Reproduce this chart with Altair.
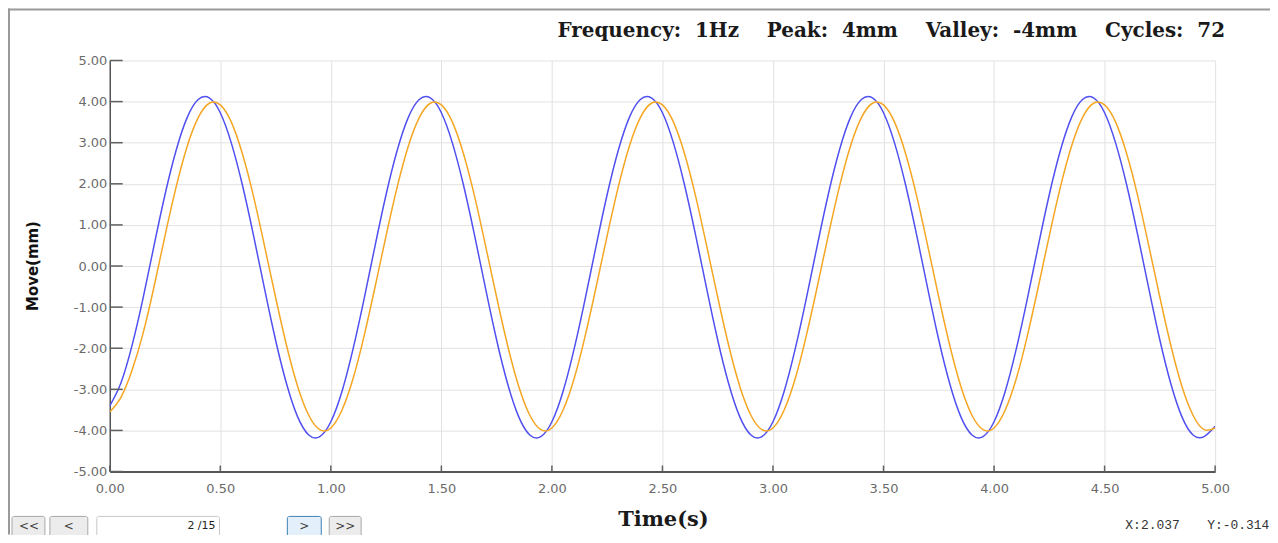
import altair as alt
import pandas as pd

# ---- data ----
time_s = [round(i * 0.05, 2) for i in range(101)]

blue_mm = [
    -3.40, -2.85, -1.95, -0.80, 0.49, 1.74, 2.81, 3.61, 4.05, 4.09, 3.73, 2.99, 1.97, 0.75, -0.55, -1.80, -2.87, -3.67, -4.11, -4.15,
    -3.79, -3.06, -2.03, -0.81, 0.49, 1.74, 2.81, 3.61, 4.05, 4.09, 3.73, 2.99, 1.97, 0.75, -0.55, -1.80, -2.87, -3.67, -4.11, -4.15,
    -3.79, -3.06, -2.03, -0.81, 0.49, 1.74, 2.81, 3.61, 4.05, 4.09, 3.73, 2.99, 1.97, 0.75, -0.55, -1.80, -2.87, -3.67, -4.11, -4.15,
    -3.79, -3.06, -2.03, -0.81, 0.49, 1.74, 2.81, 3.61, 4.05, 4.09, 3.73, 2.99, 1.97, 0.75, -0.55, -1.80, -2.87, -3.67, -4.11, -4.15,
    -3.79, -3.06, -2.03, -0.81, 0.49, 1.74, 2.81, 3.61, 4.05, 4.09, 3.73, 2.99, 1.97, 0.75, -0.55, -1.80, -2.87, -3.67, -4.11, -4.15,
    -3.90,
]

orange_mm = [
    -3.55, -3.20, -2.55, -1.65, -0.51, 0.74, 1.92, 2.91, 3.61, 3.96, 3.92, 3.50, 2.73, 1.70, 0.49, -0.76, -1.94, -2.93, -3.63, -3.98,
    -3.94, -3.51, -2.75, -1.71, -0.51, 0.74, 1.92, 2.91, 3.61, 3.96, 3.92, 3.50, 2.73, 1.70, 0.49, -0.76, -1.94, -2.93, -3.63, -3.98,
    -3.94, -3.51, -2.75, -1.71, -0.51, 0.74, 1.92, 2.91, 3.61, 3.96, 3.92, 3.50, 2.73, 1.70, 0.49, -0.76, -1.94, -2.93, -3.63, -3.98,
    -3.94, -3.51, -2.75, -1.71, -0.51, 0.74, 1.92, 2.91, 3.61, 3.96, 3.92, 3.50, 2.73, 1.70, 0.49, -0.76, -1.94, -2.93, -3.63, -3.98,
    -3.94, -3.51, -2.75, -1.71, -0.51, 0.74, 1.92, 2.91, 3.61, 3.96, 3.92, 3.50, 2.73, 1.70, 0.49, -0.76, -1.94, -2.93, -3.63, -3.98,
    -3.94,
]

series_names = ["blue", "orange"]
series_colors = ["#5050F0", "#F5A623"]

x_ticks = [0.0, 0.5, 1.0, 1.5, 2.0, 2.5, 3.0, 3.5, 4.0, 4.5, 5.0]
y_ticks = [-5, -4, -3, -2, -1, 0, 1, 2, 3, 4, 5]

NB = "\u00a0"
title_text = (f"Frequency:{NB*2}1Hz{NB*4}Peak:{NB*2}4mm{NB*4}"
              f"Valley:{NB*2}-4mm{NB*4}Cycles:{NB*2}72")
x_title = "Time(s)"
y_title = "Move(mm)"
cursor_x = "X:2.037"
cursor_y = "Y:-0.314"
page_text = "2 /15"

# ---- tables ----
df = pd.DataFrame({
    "t": time_s + time_s,
    "v": blue_mm + orange_mm,
    "s": ["blue"] * len(blue_mm) + ["orange"] * len(orange_mm),
})
ytick_df = pd.DataFrame({"v": y_ticks})
xtick_df = pd.DataFrame({"t": x_ticks})
one = pd.DataFrame({"k": [0]})

W, H = 1108, 412
xscale = alt.Scale(domain=[0, 5], nice=False)
yscale = alt.Scale(domain=[-5, 5], nice=False)

x_axis = alt.Axis(
    values=x_ticks, format=".2f", grid=True, gridColor="#e2e2e2", gridWidth=1,
    domainColor="#555555", domainWidth=2, ticks=False, labelPadding=11,
    labelFont="DejaVu Sans", labelFontSize=13, labelColor="#6a6a6a",
    labelFlush=False, title=None)
y_axis = alt.Axis(
    values=y_ticks, grid=True, gridColor="#e2e2e2", gridWidth=1,
    domainColor="#555555", domainWidth=1.5, ticks=False, labelPadding=3,
    labelFont="DejaVu Sans", labelFontSize=13, labelColor="#6a6a6a",
    labelExpr="replace(format(datum.value, '.2f'), '\u2212', '-')",
    title=None)

lines = alt.Chart(df).mark_line(interpolate="natural", strokeWidth=1.5, clip=True).encode(
    x=alt.X("t:Q", scale=xscale, axis=x_axis),
    y=alt.Y("v:Q", scale=yscale, axis=y_axis),
    color=alt.Color("s:N", scale=alt.Scale(domain=series_names, range=series_colors), legend=None),
)

yticks = alt.Chart(ytick_df).mark_rule(color="#606060", strokeWidth=1.5).encode(
    y=alt.Y("v:Q", scale=yscale, axis=y_axis), x=alt.value(0), x2=alt.value(13))
xticks = alt.Chart(xtick_df).mark_rule(color="#606060", strokeWidth=1.5).encode(
    x=alt.X("t:Q", scale=xscale, axis=x_axis), y=alt.value(H - 6), y2=alt.value(H))

def txt(text, x, y, size, font, align="center", weight="normal", color="#111111", angle=0):
    return alt.Chart(one).mark_text(
        align=align, baseline="middle", fontSize=size, font=font, fontWeight=weight,
        color=color, angle=angle).encode(x=alt.value(x), y=alt.value(y), text=alt.value(text))

def box(x1, x2, y1, y2, fill, stroke):
    return alt.Chart(one).mark_rect(fill=fill, stroke=stroke, strokeWidth=1, cornerRadius=2).encode(
        x=alt.value(x1), x2=alt.value(x2), y=alt.value(y1), y2=alt.value(y2))

title = txt(title_text, 1118, -30, 20, "DejaVu Serif", align="right", weight="bold", color="#1a1a1a")
xt = txt(x_title, 555, 461, 21, "DejaVu Serif", weight="bold", color="#1a1a1a")
yt = txt(y_title, -77, 206, 15, "DejaVu Sans", weight="bold", angle=270)
cx = txt(cursor_x, 1018, 466, 13, "Liberation Mono", align="left", color="#333333")
cy = txt(cursor_y, 1100, 466, 13, "Liberation Mono", align="left", color="#333333")

buttons = [
    box(-98, -65, 457, 485, "#ececec", "#a8a8a8"),
    box(-60, -22, 457, 485, "#ececec", "#a8a8a8"),
    box(-13, 110, 457, 485, "#ffffff", "#c8c8c8"),
    box(178, 212, 457, 485, "#e3f0fb", "#3c7fb1"),
    box(220, 252, 457, 485, "#ececec", "#a8a8a8"),
    txt("<<", -81, 467, 12, "DejaVu Sans", color="#444444"),
    txt("<", -41, 467, 12, "DejaVu Sans", color="#444444"),
    txt(page_text, 106, 467, 11, "DejaVu Sans", align="right", color="#222222"),
    txt(">", 195, 467, 12, "DejaVu Sans", color="#444444"),
    txt(">>", 236, 467, 12, "DejaVu Sans", color="#444444"),
]

frame_top = alt.Chart(one).mark_rule(color="#9a9a9a", strokeWidth=2).encode(
    x=alt.value(-102), x2=alt.value(1163), y=alt.value(-51))
frame_left = alt.Chart(one).mark_rule(color="#9a9a9a", strokeWidth=2).encode(
    x=alt.value(-101), y=alt.value(-52), y2=alt.value(475))

chart = alt.layer(
    lines, yticks, xticks, title, xt, yt, cx, cy, *buttons, frame_top, frame_left
).properties(
    width=W, height=H,
    autosize=alt.AutoSizeParams(type="none"),
    padding={"left": 102, "top": 52, "right": 55, "bottom": 63},
).configure_view(stroke="transparent")

chart.save("out.html", embed_options={"renderer": "svg", "actions": False})
